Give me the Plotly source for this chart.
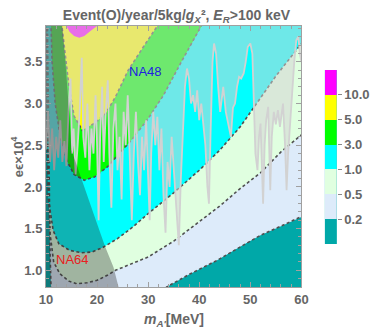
import plotly.graph_objects as go
from itertools import accumulate

# ── axis ranges ──────────────────────────────────────────────
X_RANGE = [10, 60]
Y_RANGE = [0.8, 3.93]
Y_CLOSE = 4.5  # polygons close above the frame

# ── event-number contours  (m_A' [MeV], eps*1e4), left -> right ──
C02 = [(10.25, 4.1), (10.5, 2.5), (10.8, 1.2), (11.0, 0.75), (33.2, 0.75),
       (33.6, 0.8), (38, 0.95), (43.5, 1.12), (49, 1.32), (52, 1.42),
       (56, 1.53), (60, 1.64), (60.5, 1.66)]
C05 = [(10.15, 4.1), (10.3, 2.5), (10.8, 1.44), (11.5, 1.1), (12.7, 0.96),
       (14.5, 0.87), (16, 0.84), (18, 0.85), (20, 0.88), (22, 0.94),
       (23.6, 1.0), (27, 1.08), (30, 1.16), (35, 1.35), (40, 1.58),
       (44, 1.77), (48, 1.98), (52, 2.17), (56, 2.42), (60, 2.62), (60.5, 2.65)]
C1 = [(10.1, 4.1), (10.2, 3.0), (10.4, 1.88), (11.4, 1.48), (12.5, 1.32),
      (14.6, 1.24), (17, 1.21), (19, 1.22), (21, 1.27), (24, 1.38),
      (27, 1.52), (30, 1.68), (35, 1.93), (40, 2.2), (44, 2.44), (48, 2.72),
      (51, 2.98), (55, 3.33), (59, 3.64), (60, 3.72), (60.5, 3.76)]
C3 = [(10.9, 4.1), (11.2, 3.5), (11.8, 3.0), (12.8, 2.6), (14.2, 2.3),
      (15.5, 2.15), (17.5, 2.08), (19.5, 2.12), (22, 2.24), (25, 2.44),
      (27, 2.58), (30, 2.82), (33, 3.1), (36.5, 3.5), (40.5, 3.93), (41, 4.0)]
C5 = [(12.8, 4.1), (13.1, 3.93), (13.7, 3.6), (14.5, 3.2), (15.5, 2.85),
      (17.1, 2.68), (19.4, 2.76), (21.7, 2.88), (23.6, 3.08), (26.1, 3.40),
      (29.5, 3.72), (31.8, 3.93), (32.2, 4.0)]
C10 = [(13.8, 4.1), (14.0, 3.93), (14.6, 3.86), (15.5, 3.81), (16.5, 3.79),
       (17.5, 3.81), (18.7, 3.87), (20, 3.93), (20.2, 4.1)]

LEVELS = ["0.2", "0.5", "1.0", "3.0", "5.0", "10.0"]
CONTOURS = [C02, C05, C1, C3, C5, C10]
BAND_COLORS = ["#00A8A8", "#DDEBFA", "#E0FFE0", "#00FFFF", "#00FF00", "#FFFF00", "#FF00FF"]

# ── NA64 excluded region boundary (top -> bottom) ──
NA64 = [(12.9, 4.1), (13.2, 3.93), (13.8, 3.5), (14.4, 3.0), (15.0, 2.44),
        (16.7, 2.14), (18.4, 1.84), (20.0, 1.56), (21.6, 1.28), (23.2, 1.04),
        (24.2, 0.8), (24.4, 0.7)]

# ── NA48 upper limit (jagged) ──
NA48 = [(10.0, 2.45), (10.4, 2.9), (10.8, 2.3), (11.2, 2.7), (11.6, 2.2), (12.0, 2.6),
        (12.4, 2.35), (12.8, 2.8), (13.2, 2.3), (13.6, 2.55), (14.0, 2.25), (14.4, 2.9),
        (14.8, 3.3), (15.1, 2.4), (15.4, 2.7), (15.8, 2.15), (16.2, 2.5), (16.6, 2.9),
        (17.0, 3.55), (17.3, 2.6), (17.7, 2.35), (18.1, 3.0), (18.5, 2.2), (18.9, 2.7),
        (19.3, 2.4), (19.7, 3.1), (20.0, 2.5), (20.3, 1.6), (20.6, 2.6), (21.0, 3.2),
        (21.3, 2.3), (21.7, 2.9), (22.1, 3.28), (22.4, 2.4), (22.8, 1.75), (23.2, 2.7),
        (23.6, 3.0), (24.0, 2.2), (24.4, 2.6), (24.8, 1.85), (25.2, 2.9), (25.6, 2.5),
        (26.0, 3.1), (26.4, 2.2), (26.8, 1.6), (27.2, 2.4), (27.6, 2.9), (28.0, 2.3),
        (28.4, 1.9), (28.8, 2.6), (29.2, 2.2), (29.6, 2.8), (30.0, 2.0), (30.3, 1.6),
        (30.6, 2.4), (31.0, 2.9), (31.4, 2.5), (31.8, 2.84), (32.2, 2.2), (32.6, 2.7),
        (33.0, 1.9), (33.4, 1.45), (33.8, 2.3), (34.2, 2.0), (34.6, 2.6), (35.0, 2.2),
        (35.5, 1.7), (36.0, 1.3), (36.4, 2.1), (36.8, 2.7), (37.2, 3.2), (37.6, 3.42),
        (38.0, 3.3), (38.4, 3.0), (38.8, 3.1), (39.2, 2.9), (39.6, 3.16), (40.0, 2.8),
        (40.4, 3.0), (40.8, 2.75), (41.2, 2.5), (41.6, 2.0), (41.9, 1.8), (42.2, 2.6),
        (42.6, 3.5), (42.9, 3.72), (43.3, 3.6), (43.7, 3.2), (44.1, 2.9), (44.7, 3.2),
        (45.2, 2.9), (45.8, 2.72), (46.2, 2.6), (46.6, 2.95), (47.0, 3.0), (47.4, 3.2),
        (47.8, 3.32), (48.2, 3.3), (48.7, 3.36), (49.1, 3.5), (49.5, 3.68), (50.0, 3.72),
        (50.4, 3.6), (50.7, 3.0), (51.0, 2.4), (51.4, 2.2), (51.7, 2.6), (52.0, 2.76),
        (52.3, 2.3), (52.5, 1.8), (52.8, 2.5), (53.1, 2.8), (53.5, 2.96), (53.9, 1.96),
        (54.2, 2.6), (54.6, 2.9), (55.0, 2.75), (55.4, 2.92), (55.8, 2.72), (56.1, 2.85),
        (56.4, 3.0), (56.8, 2.5), (57.1, 1.96), (57.4, 2.4), (57.8, 2.8), (58.2, 3.1),
        (58.6, 3.5), (59.0, 3.76), (59.4, 3.8), (59.7, 3.6), (60.0, 3.5)]

GRAY = "#666666"
FONT = "Liberation Sans"

# the page body adds an 8px offset, so the figure is 8px smaller than the window
W, H = 374, 320
PLOT_W, PLOT_H = 326, 261


def xs(pts):
    return [p[0] for p in pts]


def ys(pts):
    return [p[1] for p in pts]


fig = go.Figure()

# filled bands, lowest level first (teal is the plot background)
for pts, col in zip(CONTOURS, BAND_COLORS[1:]):
    poly = pts + [(pts[-1][0], Y_CLOSE), (pts[0][0], Y_CLOSE)]
    fig.add_trace(go.Scatter(x=xs(poly), y=ys(poly), fill="toself", fillcolor=col,
                             mode="none", hoverinfo="skip", showlegend=False))

# dashed contour lines
for pts in CONTOURS[:-1]:
    fig.add_trace(go.Scatter(x=xs(pts), y=ys(pts), mode="lines",
                             line=dict(color="#505050", width=1.6, dash="3px,2.5px"),
                             hoverinfo="skip", showlegend=False))

# NA48 excluded region (washed overlay above jagged limit)
na48_poly = NA48 + [(NA48[-1][0], Y_CLOSE), (NA48[0][0], Y_CLOSE)]
fig.add_trace(go.Scatter(x=xs(na48_poly), y=ys(na48_poly), fill="toself",
                         fillcolor="rgba(211,211,211,0.52)", mode="none",
                         hoverinfo="skip", showlegend=False))
fig.add_trace(go.Scatter(x=xs(NA48), y=ys(NA48), mode="lines",
                         line=dict(color="#D2D2D2", width=1.8),
                         hoverinfo="skip", showlegend=False))

# NA64 excluded region (darker overlay on the left)
na64_poly = NA64 + [(X_RANGE[0] - 1, NA64[-1][1]), (X_RANGE[0] - 1, NA64[0][1])]
fig.add_trace(go.Scatter(x=xs(na64_poly), y=ys(na64_poly), fill="toself",
                         fillcolor="rgba(40,40,40,0.35)", mode="none",
                         hoverinfo="skip", showlegend=False))

# discrete legend bar on its own axes
band_h = [1] * len(BAND_COLORS)
band_base = [0] + list(accumulate(band_h))[:-1]
fig.add_trace(go.Bar(x=[0] * len(BAND_COLORS), y=band_h, base=band_base, width=1,
                     marker=dict(color=BAND_COLORS, line=dict(width=0)),
                     xaxis="x2", yaxis="y2", hoverinfo="skip", showlegend=False))

tickfont = dict(family=FONT, size=13, color=GRAY, weight="bold")
axis_common = dict(showgrid=False, zeroline=False, showline=True, linecolor="#A0A0A0",
                   linewidth=1, mirror="allticks", ticks="inside", tickcolor="#A0A0A0",
                   ticklen=5, tickfont=tickfont)

fig.update_layout(
    width=W, height=H,
    margin=dict(l=38, r=W - 38 - PLOT_W, t=18, b=H - 18 - PLOT_H),
    paper_bgcolor="white",
    plot_bgcolor=BAND_COLORS[0],
    title=dict(text="<b>Event(O)/year/5kg/<i>g</i><sub><i>X</i></sub>\u00b2, "
                    "<i>E</i><sub><i>R</i></sub>>100 keV</b>",
               x=168.5 / W, xanchor="center", y=1 - 7.5 / H, yanchor="middle",
               font=dict(family=FONT, size=14, color=GRAY)),
    xaxis=dict(range=X_RANGE, domain=[0, 261 / PLOT_W], dtick=10, tick0=10,
               minor=dict(ticks="inside", dtick=2, ticklen=3, tickcolor="#A0A0A0"),
               **axis_common),
    yaxis=dict(range=Y_RANGE, domain=[0, 1], dtick=0.5, tick0=1.0, tickformat=".1f",
               minor=dict(ticks="inside", dtick=0.1, ticklen=3, tickcolor="#A0A0A0"),
               **axis_common),
    xaxis2=dict(domain=[285 / PLOT_W, 297 / PLOT_W], range=[-0.5, 0.5], visible=False,
                anchor="y2"),
    yaxis2=dict(domain=[43 / PLOT_H, 217 / PLOT_H], range=[0, len(BAND_COLORS)],
                anchor="x2", side="right", showgrid=False, zeroline=False,
                tickvals=list(accumulate(band_h))[:-1], ticktext=LEVELS,
                ticks="outside", ticklen=4, tickcolor="#888888", showline=False,
                tickfont=tickfont),
    bargap=0,
    annotations=[
        dict(text="NA48", x=29.5, y=3.39, xref="x", yref="y", showarrow=False,
             font=dict(family=FONT, size=13, color="#2020E0")),
        dict(text="NA64", x=15.1, y=1.13, xref="x", yref="y", showarrow=False,
             font=dict(family=FONT, size=13, color="#E82020")),
        dict(text="<b><i>m</i><sub><i>A'</i></sub>[MeV]</b>", x=0.5 * 261 / PLOT_W,
             y=-33 / PLOT_H, xref="paper", yref="paper", showarrow=False,
             yanchor="middle", font=dict(family=FONT, size=14, color=GRAY)),
        dict(text="<b>e\u03f5\u00d710<sup>4</sup></b>", x=-30 / PLOT_W, y=0.5,
             xref="paper", yref="paper", showarrow=False, textangle=-90,
             xanchor="center", font=dict(family=FONT, size=13, color=GRAY)),
    ],
)

fig.write_html("out.html")
